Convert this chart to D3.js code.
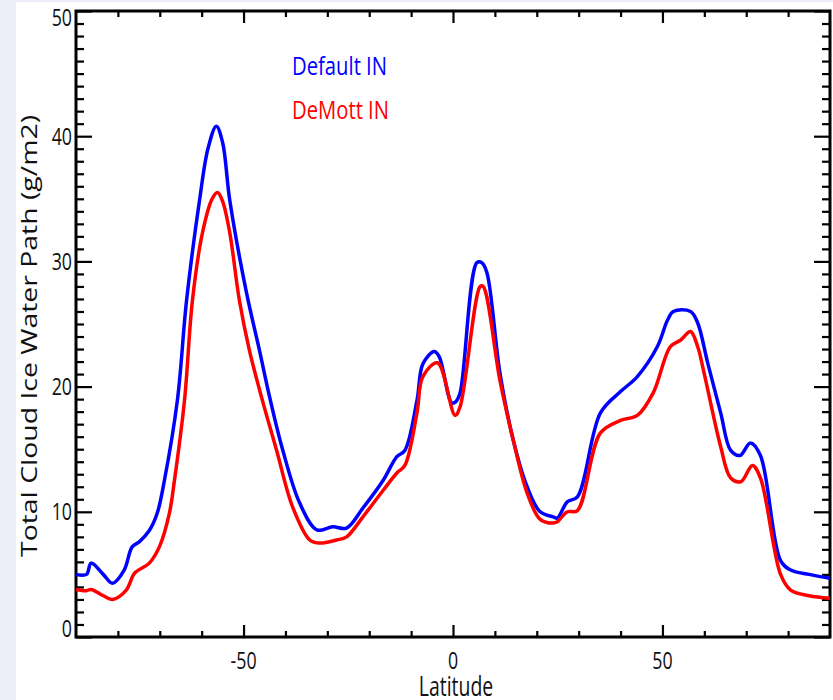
<!DOCTYPE html>
<html>
<head>
<meta charset="utf-8">
<script src="https://cdn.jsdelivr.net/npm/d3@7"></script>
<style>
    html, body { margin: 0; padding: 0; background: #eeeef9; }
    svg { display: block; }
    text { font-family: "Open Sans", "Noto Sans", sans-serif; fill: #111; }
</style>
</head>
<body>
<svg id="chart" width="833" height="700"></svg>
<script>
// Default IN (blue)
const defaultLat = [-90, -87.5, -86.4, -83.5, -81.3, -78.5, -76.6, -74.9, -72.5, -70.6, -68.9, -65.8, -63.6, -60.5, -58.5, -56.5, -55, -53.3, -49.3, -46.2, -43.8, -40.7, -36.6, -32.5, -28.7, -25.4, -21.5, -16.7, -13.4, -11.5, -8.6, -7.2, -4.5, -3.3, -0.3, 0.7, 1.7, 5.7, 6.9, 8.1, 11.2, 14.4, 17.7, 20.8, 23.9, 24.9, 27.3, 29.7, 35.2, 40, 44, 48.8, 51.2, 52.6, 56.7, 58.4, 60.8, 63.9, 66.3, 68.5, 71, 73.4, 78.2, 80.6, 85, 90];
const defaultIWP = [5.0, 5.0, 5.9, 5.0, 4.3, 5.35, 7.2, 7.6, 8.5, 9.9, 12.5, 18.9, 26.9, 34.9, 39.0, 40.8, 39.5, 34.9, 27.5, 22.9, 19.2, 15.0, 10.7, 8.55, 8.8, 8.7, 10.3, 12.5, 14.4, 14.9, 18.9, 21.8, 22.8, 22.4, 18.7, 18.8, 19.5, 29.9, 29.9, 29.1, 21.1, 15.7, 12.0, 10.0, 9.6, 9.5, 10.8, 11.2, 17.9, 19.6, 20.8, 23.2, 25.3, 26.0, 26.0, 25.1, 21.9, 17.9, 14.9, 14.5, 15.5, 14.5, 6.1, 5.35, 5.0, 4.7];

// DeMott IN (red)
const demottLat = [-90, -87.5, -86.4, -83.5, -81.3, -78, -76, -72.5, -70.1, -67.7, -66.5, -64.1, -62.2, -59.8, -57.5, -56.2, -55, -53.3, -51, -48.6, -45.5, -42.1, -38.3, -34.2, -31.8, -27.8, -25.4, -21.5, -16.7, -13.4, -11.5, -8.6, -7.2, -3.7, 0.5, 1.7, 6.5, 7.2, 11.2, 14.4, 17.7, 20.8, 23.9, 24.9, 27.3, 29.7, 35.2, 40, 44, 47.8, 51.9, 54.3, 56.7, 58.4, 59.8, 63.9, 66.3, 68.7, 71.5, 73.4, 78.2, 80.6, 85, 90];
const demottIWP = [3.8, 3.7, 3.8, 3.3, 3.0, 3.75, 5.1, 5.9, 7.2, 9.9, 12.5, 18.9, 26.9, 32.3, 35.0, 35.5, 34.8, 32.3, 26.9, 22.9, 18.9, 14.9, 10.4, 7.75, 7.5, 7.75, 8.0, 9.6, 11.7, 13.1, 13.7, 17.9, 20.8, 21.9, 17.7, 18.4, 28.0, 28.0, 20.5, 15.7, 11.5, 9.4, 9.1, 9.2, 10.0, 10.1, 16.3, 17.3, 17.7, 19.5, 23.2, 23.7, 24.4, 23.2, 21.3, 15.2, 12.7, 12.4, 13.7, 12.7, 5.0, 3.75, 3.3, 3.1];

const xMajorTicks = [-50, 0, 50];
const xMinorTicks = [-80, -70, -60, -40, -30, -20, -10, 10, 20, 30, 40, 60, 70, 80];
const yMajorTicks = [0, 10, 20, 30, 40, 50];
const yMinorTicks = d3.range(0, 51).filter((v) => v % 10 !== 0);

const seriesNames = ["Default IN", "DeMott IN"];
const seriesColors = ["#0000ff", "#ff0000"];

const svg = d3.select("#chart");
const plot = { left: 76, right: 830, top: 11, bottom: 637 };

// white panel on lavender page
svg.append("rect").attr("x", 16).attr("y", 2).attr("width", 833 - 16).attr("height", 698).attr("fill", "#fff");

const x = d3.scaleLinear().domain([-90, 90]).range([plot.left, plot.right]);
const y = d3.scaleLinear().domain([0, 50]).range([plot.bottom, plot.top]);

function condense(sel, k) {
    sel.each(function () {
        const w = this.getComputedTextLength();
        d3.select(this).attr("textLength", w * k).attr("lengthAdjust", "spacingAndGlyphs");
    });
}

function styleAxis(g) {
    g.select(".domain").remove();
    g.selectAll(".tick line").attr("stroke", "#000").attr("stroke-width", 2.2);
}

// minor + major ticks on all four sides, pointing inward
const axes = svg.append("g");
axes.append("g").attr("transform", `translate(0,${plot.bottom})`)
    .call(d3.axisBottom(x).tickValues(xMinorTicks).tickSize(-6).tickFormat("")).call(styleAxis);
axes.append("g").attr("transform", `translate(0,${plot.bottom})`)
    .call(d3.axisBottom(x).tickValues(xMajorTicks).tickSize(-12).tickFormat("")).call(styleAxis);
axes.append("g").attr("transform", `translate(0,${plot.top})`)
    .call(d3.axisTop(x).tickValues(xMinorTicks).tickSize(-6).tickFormat("")).call(styleAxis);
axes.append("g").attr("transform", `translate(0,${plot.top})`)
    .call(d3.axisTop(x).tickValues(xMajorTicks).tickSize(-12).tickFormat("")).call(styleAxis);
axes.append("g").attr("transform", `translate(${plot.left},0)`)
    .call(d3.axisLeft(y).tickValues(yMinorTicks).tickSize(-8).tickFormat("")).call(styleAxis);
axes.append("g").attr("transform", `translate(${plot.left},0)`)
    .call(d3.axisLeft(y).tickValues(yMajorTicks).tickSize(-16).tickFormat("")).call(styleAxis);
axes.append("g").attr("transform", `translate(${plot.right},0)`)
    .call(d3.axisRight(y).tickValues(yMinorTicks).tickSize(-8).tickFormat("")).call(styleAxis);
axes.append("g").attr("transform", `translate(${plot.right},0)`)
    .call(d3.axisRight(y).tickValues(yMajorTicks).tickSize(-16).tickFormat("")).call(styleAxis);

// frame
svg.append("rect")
    .attr("x", plot.left).attr("y", plot.top)
    .attr("width", plot.right - plot.left).attr("height", plot.bottom - plot.top)
    .attr("fill", "none").attr("stroke", "#000").attr("stroke-width", 3);

// tick labels
const xLabels = svg.append("g").selectAll("text")
    .data(xMajorTicks)
    .enter()
    .append("text")
    .attr("x", (d) => x(d))
    .attr("y", 669)
    .attr("text-anchor", "middle")
    .attr("font-size", 24)
    .text((d) => d);
condense(xLabels, 0.74);

const yLabels = svg.append("g").selectAll("text")
    .data(yMajorTicks)
    .enter()
    .append("text")
    .attr("x", 72)
    .attr("y", (d) => y(d) + (d === 0 ? -8 : d === 50 ? 7 : 0))
    .attr("dy", "0.35em")
    .attr("text-anchor", "end")
    .attr("font-size", 24)
    .text((d) => d);
condense(yLabels, 0.74);

// axis titles
const xTitle = svg.append("text")
    .attr("x", 456).attr("y", 696)
    .attr("text-anchor", "middle")
    .attr("font-size", 27)
    .text("Latitude");
condense(xTitle, 0.72);

svg.append("text")
    .attr("transform", "translate(37,336) rotate(-90)")
    .attr("text-anchor", "middle")
    .attr("font-size", 22)
    .attr("textLength", 442)
    .attr("lengthAdjust", "spacingAndGlyphs")
    .text("Total Cloud Ice Water Path (g/m2)");

// lines
const line = d3.line()
    .x((d) => x(d[0]))
    .y((d) => y(d[1]))
    .curve(d3.curveCatmullRom.alpha(0.5));

const series = [
    d3.zip(defaultLat, defaultIWP),
    d3.zip(demottLat, demottIWP),
];

svg.append("g").selectAll("path")
    .data(series)
    .enter()
    .append("path")
    .attr("d", line)
    .attr("fill", "none")
    .attr("stroke", (d, i) => seriesColors[i])
    .attr("stroke-width", 3.5)
    .attr("stroke-linejoin", "round");

// legend
const legend = svg.append("g").selectAll("text")
    .data(seriesNames)
    .enter()
    .append("text")
    .attr("x", 292)
    .attr("y", (d, i) => 75 + i * 44)
    .attr("font-size", 25)
    .style("fill", (d, i) => seriesColors[i])
    .text((d) => d);
legend.each(function (d, i) {
    d3.select(this).attr("textLength", i === 0 ? 95 : 97).attr("lengthAdjust", "spacingAndGlyphs");
});
</script>
</body>
</html>
